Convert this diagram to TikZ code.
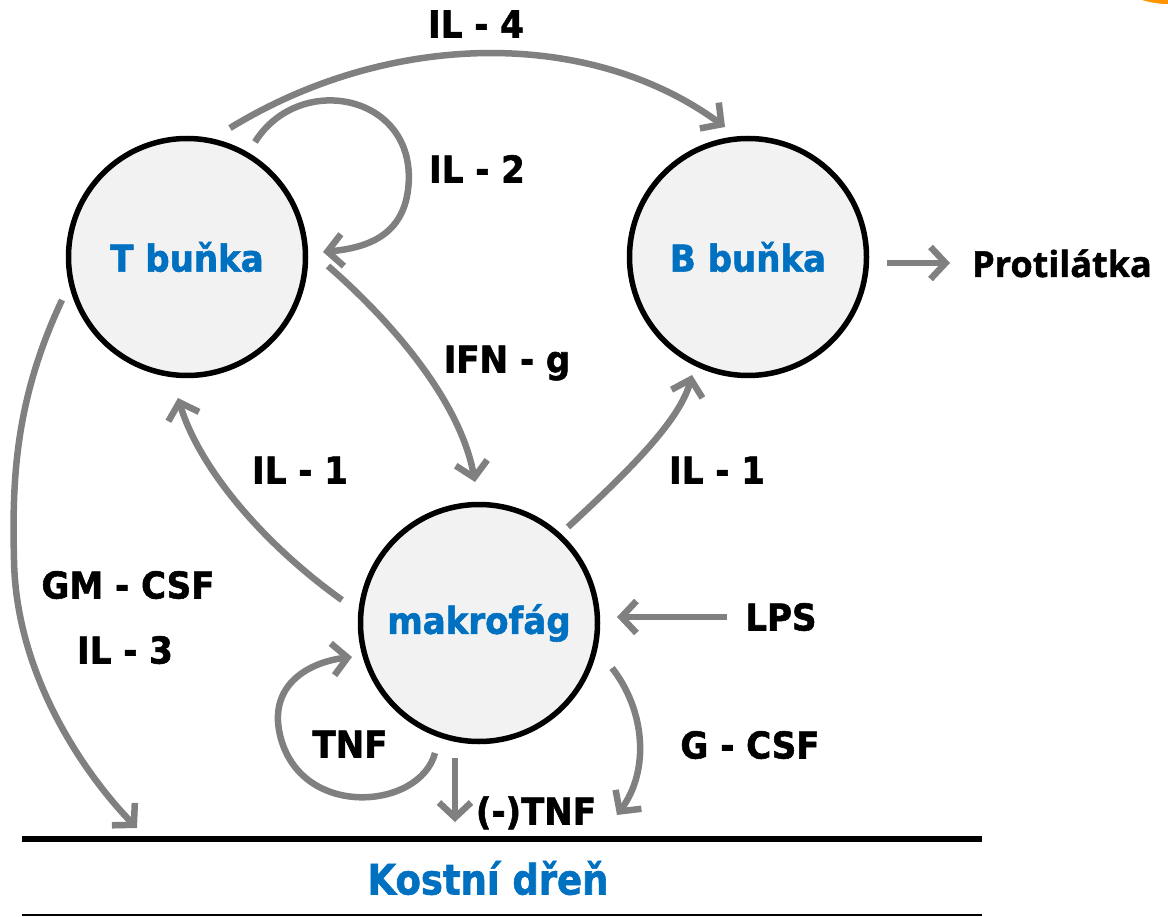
\documentclass[tikz,border=0pt]{standalone}
\usepackage{fontspec}
\setmainfont{DejaVu Sans}[FakeStretch=0.92,BoldFeatures={FakeBold=1.5}]
\newfontfamily\protfont{Open Sans}[BoldFeatures={FakeBold=1.2}]
\newfontfamily\kfont{DejaVu Sans}[FakeStretch=0.88,BoldFeatures={FakeBold=1.5}]
\usetikzlibrary{arrows.meta}
\definecolor{gr}{HTML}{808080}
\definecolor{bl}{HTML}{0070C0}
\definecolor{cellfill}{HTML}{F2F2F2}
\begin{document}
\begin{tikzpicture}[x=1pt,y=-1pt,
  cell/.style={circle,draw=black,line width=5.5pt,fill=cellfill,minimum size=237pt,inner sep=0pt,
    font=\fontsize{37}{44}\selectfont\bfseries,text=bl},
  lab/.style={font=\fontsize{37}{44}\selectfont\bfseries,text=black,inner sep=0pt,text height=27pt,text depth=0pt},
  arr/.style={draw=gr,line width=6.5pt,-{Straight Barb[length=15pt,width=32pt]}}]
\useasboundingbox (0,0) rectangle (1168,917);
\fill[orange!85!yellow] (1142,0) .. controls (1152,3) and (1160,4) .. (1168,4) -- (1168,0) -- cycle;
% cells
\node[cell] (T) at (187,257) {T buňka};
\node[cell] (B) at (748,257) {B buňka};
\node[cell] (M) at (479,623) {makrofág};
% labels
\node[lab] (il4) at (476,24) {IL - 4};
\node[lab] (il2) at (477,169) {IL - 2};
\node[lab] (ifn) at (507,359) {IFN - g};
\node[lab] (il1a) at (300,470) {IL - 1};
\node[lab] (il1b) at (717,470) {IL - 1};
\node[lab] (gm) at (128,585) {GM - CSF};
\node[lab] (il3) at (125,650) {IL - 3};
\node[lab] (lps) at (781,617) {LPS};
\node[lab] (tnf) at (350,744) {TNF};
\node[lab] (gcsf) at (750,745) {G - CSF};
\node[lab] (ntnf) at (536,811) {(-)TNF};
\node[lab,font=\protfont\fontsize{36}{42}\selectfont\bfseries,text height=26pt] (prot) at (1062,264) {Protilátka};
\node[font=\kfont\fontsize{42}{50}\selectfont\bfseries,text=bl,inner sep=0pt,text height=31pt,text depth=0pt] (kd) at (488,879) {Kostní dřeň};
% bone marrow lines
\coordinate (l1a) at (22,839); \coordinate (l1b) at (982,839);
\coordinate (l2a) at (22,915); \coordinate (l2b) at (982,915);
\draw[line width=6.5pt] (l1a) -- (l1b);
\draw[line width=2pt] (l2a) -- (l2b);
% endpoints
\coordinate (a1s) at (230,128); \coordinate (a1e) at (725,127);
\coordinate (a2s) at (255,142); \coordinate (a2m) at (408,190); \coordinate (a2e) at (323,252);
\coordinate (a3s) at (328,266); \coordinate (a3e) at (475,482);
\coordinate (a4s) at (342,600); \coordinate (a4e) at (178,398);
\coordinate (a5s) at (568,527); \coordinate (a5e) at (692,375);
\coordinate (a6s) at (62,300); \coordinate (a6m) at (14,560); \coordinate (a6e) at (137,828);
\coordinate (a7s) at (727,617); \coordinate (a7e) at (617,617);
\coordinate (a8s) at (887,263); \coordinate (a8e) at (950,263);
\coordinate (a9s) at (455,758); \coordinate (a9e) at (455,822);
\coordinate (a10s) at (612,668); \coordinate (a10e) at (617,815);
\coordinate (a11s) at (435,753); \coordinate (a11m) at (280,735); \coordinate (a11e) at (352,657);
% arrows
\draw[arr] (a1s) .. controls (390,30) and (590,28) .. (a1e);
\draw[arr] (a2s) .. controls (300,70) and (420,95) .. (a2m) .. controls (402,237) and (365,248) .. (a2e);
\draw[arr] (a3s) .. controls (390,320) and (460,400) .. (a3e);
\draw[arr] (a4s) .. controls (265,545) and (200,470) .. (a4e);
\draw[arr] (a5s) .. controls (630,470) and (680,420) .. (a5e);
\draw[arr] (a6s) .. controls (15,400) and (12,480) .. (a6m) .. controls (16,680) and (90,780) .. (a6e);
\draw[arr] (a7s) -- (a7e);
\draw[arr] (a8s) -- (a8e);
\draw[arr] (a9s) -- (a9e);
\draw[arr] (a10s) .. controls (645,710) and (650,770) .. (a10e);
\draw[arr] (a11s) .. controls (420,810) and (300,820) .. (a11m) .. controls (268,684) and (310,662) .. (a11e);
\end{tikzpicture}
\end{document}
